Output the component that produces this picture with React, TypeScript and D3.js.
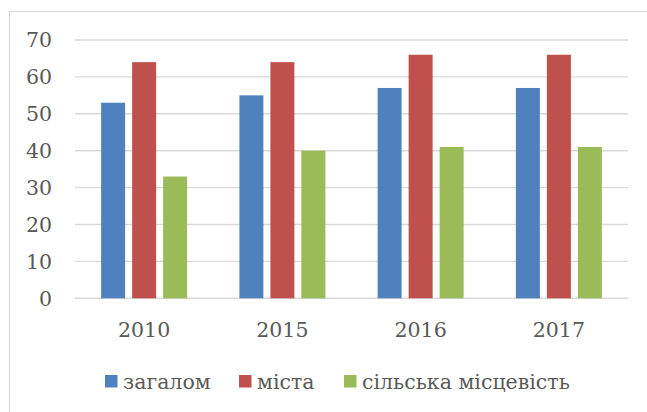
import React, { useEffect, useRef } from "react";
import * as d3 from "d3";

// chart data
const years = ["2010", "2015", "2016", "2017"];
const seriesNames = ["загалом", "міста", "сільська місцевість"];
const zagalom = [53, 55, 57, 57];
const mista = [64, 64, 66, 66];
const silska = [33, 40, 41, 41];
const yTicks = [0, 10, 20, 30, 40, 50, 60, 70];
const colors = ["#4F81BD", "#C0504D", "#9BBB59"];

const W = 647;
const H = 412;
const FONT = "'DejaVu Serif', serif";
const TEXT = "#595959";

const App: React.FC = () => {
    const ref = useRef<SVGSVGElement>(null);

    useEffect(() => {
        const svg = d3.select(ref.current);
        svg.selectAll("*").remove();

        const values = [zagalom, mista, silska];

        // outer chart frame (only top and left edges are in view)
        svg.append("rect")
            .attr("x", 9.5)
            .attr("y", 11.5)
            .attr("width", 700)
            .attr("height", 500)
            .attr("fill", "#fff")
            .attr("stroke", "#D9D9D9")
            .attr("stroke-width", 1.2);

        const x = d3.scaleBand().domain(years).range([75, 628]);
        const x1 = d3
            .scaleBand()
            .domain(seriesNames)
            .range([-43, 43])
            .paddingInner(7 / 31);
        const y = d3.scaleLinear().domain([0, 70]).range([298.3, 40]);

        // gridlines
        svg.append("g")
            .selectAll("line")
            .data(yTicks)
            .enter()
            .append("line")
            .attr("x1", 75)
            .attr("x2", 628)
            .attr("y1", (d) => y(d))
            .attr("y2", (d) => y(d))
            .attr("stroke", "#D9D9D9")
            .attr("stroke-width", 1.4);

        // y labels
        svg.append("g")
            .selectAll("text")
            .data(yTicks)
            .enter()
            .append("text")
            .attr("x", 52)
            .attr("y", (d) => y(d))
            .attr("dy", "0.36em")
            .attr("text-anchor", "end")
            .attr("font-family", FONT)
            .attr("font-size", 20.5)
            .attr("fill", TEXT)
            .text((d) => d);

        // bars
        seriesNames.forEach((s, si) => {
            svg.append("g")
                .selectAll("rect")
                .data(values[si])
                .enter()
                .append("rect")
                .attr("x", (d, i) => x(years[i])! + x.bandwidth() / 2 + x1(s)!)
                .attr("y", (d) => y(d))
                .attr("width", x1.bandwidth())
                .attr("height", (d) => y(0) - y(d))
                .attr("fill", colors[si]);
        });

        // x labels
        svg.append("g")
            .selectAll("text")
            .data(years)
            .enter()
            .append("text")
            .attr("x", (d) => x(d)! + x.bandwidth() / 2)
            .attr("y", 337)
            .attr("text-anchor", "middle")
            .attr("font-family", FONT)
            .attr("font-size", 20.5)
            .attr("fill", TEXT)
            .text((d) => d);

        // legend
        const legendX = [105, 239, 344];
        const leg = svg.append("g");
        seriesNames.forEach((s, i) => {
            leg.append("rect")
                .attr("x", legendX[i])
                .attr("y", 375)
                .attr("width", 12.5)
                .attr("height", 12.5)
                .attr("fill", colors[i]);
            leg.append("text")
                .attr("x", legendX[i] + 18)
                .attr("y", 389)
                .attr("font-family", FONT)
                .attr("font-size", 20.5)
                .attr("fill", TEXT)
                .text(s);
        });
    }, []);

    return (
        <div style={{ position: "absolute", left: 0, top: 0 }}>
            <svg ref={ref} width={W} height={H} style={{ display: "block" }}></svg>
        </div>
    );
};

export default App;
